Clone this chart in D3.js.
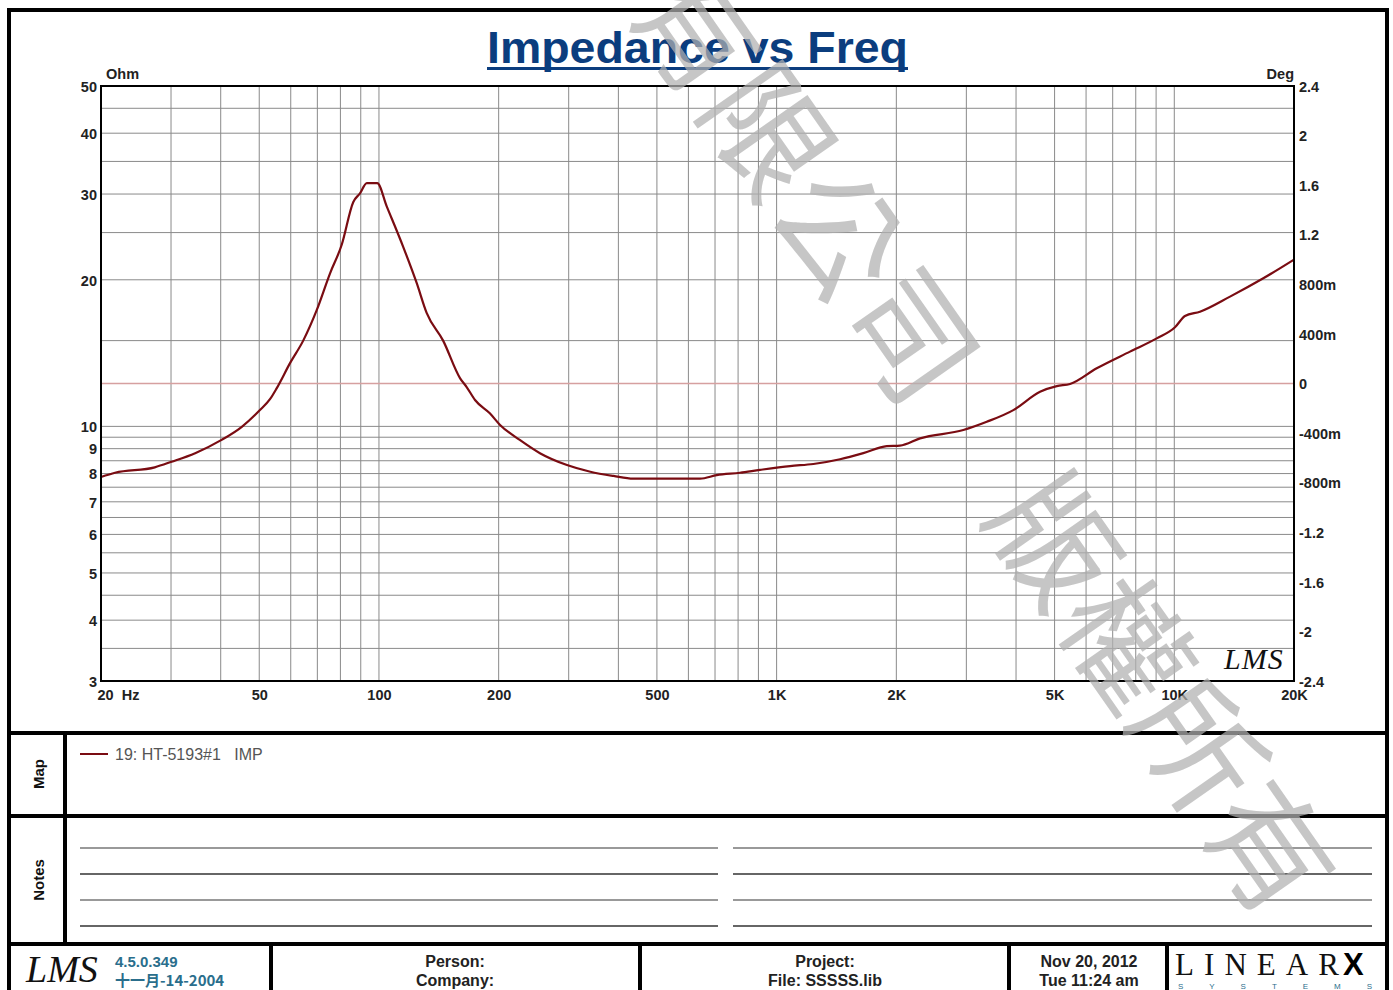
<!DOCTYPE html>
<html lang="en">
<head>
<meta charset="UTF-8">
<title>Impedance vs Freq</title>
<style>
  body { margin: 0; background: #fff; }
  svg text { font-family: "Liberation Sans", Arial, sans-serif; }
</style>
</head>
<body>
<div id="chart"></div>
<script src="https://d3js.org/d3.v7.min.js"></script>
<script>
// impedance trace
const freqHz = [20, 21.7, 27.3, 30.1, 34.5, 40.2, 45.2, 50.2, 53.2, 55.3, 59.8, 64.5, 69.7, 75.3, 80.6,
  86.2, 89.6, 93.2, 99, 104.6, 115, 124.4, 131.8, 145, 160, 166, 174.4, 190, 201.6, 226, 254, 297,
  340, 389, 436, 642, 707, 809, 908, 1081, 1237, 1444, 1652, 1892, 2042, 2294, 2948, 3376, 3938,
  4596, 5064, 5468, 6382, 7738, 9032, 10042, 10638, 11604, 13808, 16744, 20000]
const impOhm = [7.87, 8.03, 8.24, 8.46, 8.81, 9.38, 9.98, 10.8, 11.37, 11.97, 13.5, 15.0, 17.3, 20.6, 23.6,
  28.9, 30.1, 31.6, 31.6, 28.3, 23.4, 19.7, 17.1, 15.0, 12.55, 12.06, 11.33, 10.64, 10.07, 9.38, 8.81, 8.33,
  8.07, 7.91, 7.81, 7.81, 7.94, 8.03, 8.14, 8.29, 8.37, 8.56, 8.81, 9.11, 9.13, 9.45, 9.83, 10.22, 10.8,
  11.78, 12.1, 12.22, 13.16, 14.24, 15.16, 15.98, 16.85, 17.2, 18.47, 20.14, 22.0]
// phase trace (flat at 0 deg)
const phaseFreq = [20, 20000]
const phaseDeg = [0, 0]

const xTicks = [20, 50, 100, 200, 500, 1000, 2000, 5000, 10000, 20000]
const xTickLabels = ['20  Hz', '50', '100', '200', '500', '1K', '2K', '5K', '10K', '20K']
const yLeftTicks = [3, 4, 5, 6, 7, 8, 9, 10, 20, 30, 40, 50]
const yLeftGrid = [3.5, 4, 4.5, 5, 5.5, 6, 6.5, 7, 7.5, 8, 8.5, 9, 9.5, 10, 15, 20, 25, 30, 35, 40, 45]
const yRightTicks = [2.4, 2, 1.6, 1.2, 0.8, 0.4, 0, -0.4, -0.8, -1.2, -1.6, -2, -2.4]
const yRightLabels = ['2.4', '2', '1.6', '1.2', '800m', '400m', '0', '-400m', '-800m', '-1.2', '-1.6', '-2', '-2.4']

const width = 1393
const height = 990
const plot = { left: 101, right: 1294, top: 86, bottom: 681 }
const traceColor = '#7a0c12'

const svg = d3.select('#chart')
  .append('svg')
  .attr('width', width)
  .attr('height', height)

const xScale = d3.scaleLog().domain([20, 20000]).range([plot.left, plot.right])
const yScale = d3.scaleLog().domain([3, 50]).range([plot.bottom, plot.top])
const yPhase = d3.scaleLinear().domain([-2.4, 2.4]).range([plot.bottom, plot.top])

// title
svg.append('text')
  .attr('x', 487).attr('y', 63)
  .attr('textLength', 421).attr('lengthAdjust', 'spacingAndGlyphs')
  .style('font-size', '44px').style('font-weight', 'bold')
  .attr('fill', '#0b3d7e')
  .text('Impedance vs Freq')
svg.append('line')
  .attr('x1', 487).attr('x2', 908).attr('y1', 68.5).attr('y2', 68.5)
  .attr('stroke', '#0b3d7e').attr('stroke-width', 3)

// grid
const grid = svg.append('g')
const xGrid = []
for (let dec = 10; dec <= 10000; dec *= 10) {
  for (let m = 1; m <= 9; m++) {
    const f = dec * m
    if (f > 20 && f < 20000) xGrid.push(f)
  }
}
grid.selectAll('.vg').data(xGrid).enter().append('line')
  .attr('x1', d => xScale(d)).attr('x2', d => xScale(d))
  .attr('y1', plot.top).attr('y2', plot.bottom)
  .attr('stroke', '#8a8a8a').attr('stroke-width', 1)
grid.selectAll('.hg').data(yLeftGrid).enter().append('line')
  .attr('x1', plot.left).attr('x2', plot.right)
  .attr('y1', d => yScale(d)).attr('y2', d => yScale(d))
  .attr('stroke', '#8a8a8a').attr('stroke-width', 1)

// phase (0 deg) trace
svg.append('path')
  .datum(phaseFreq.map((f, i) => [f, phaseDeg[i]]))
  .attr('fill', 'none').attr('stroke', '#d6a0a0').attr('stroke-width', 1.6)
  .attr('d', d3.line().x(d => xScale(d[0])).y(d => yPhase(d[1])))

// impedance trace
svg.append('path')
  .datum(freqHz.map((f, i) => [f, impOhm[i]]))
  .attr('fill', 'none').attr('stroke', traceColor).attr('stroke-width', 2.2)
  .attr('stroke-linejoin', 'round')
  .attr('d', d3.line().curve(d3.curveMonotoneX).x(d => xScale(d[0])).y(d => yScale(d[1])))

// plot frame
svg.append('rect')
  .attr('x', plot.left).attr('y', plot.top)
  .attr('width', plot.right - plot.left).attr('height', plot.bottom - plot.top)
  .attr('fill', 'none').attr('stroke', '#000').attr('stroke-width', 2)

// axes
const xAxis = d3.axisBottom(xScale).tickValues(xTicks)
  .tickFormat((d, i) => xTickLabels[i]).tickSize(0).tickPadding(9)
const gx = svg.append('g').attr('transform', `translate(0,${plot.bottom})`).call(xAxis)
gx.select('.domain').remove()
gx.selectAll('text').filter((d, i) => i === 0)
  .attr('text-anchor', 'start').attr('x', -4).style('white-space', 'pre')

const yAxis = d3.axisLeft(yScale).tickValues(yLeftTicks)
  .tickFormat(d3.format('d')).tickSize(0).tickPadding(4)
const gy = svg.append('g').attr('transform', `translate(${plot.left},0)`).call(yAxis)
gy.select('.domain').remove()

const yAxisR = d3.axisRight(yPhase).tickValues(yRightTicks)
  .tickFormat((d, i) => yRightLabels[i]).tickSize(0).tickPadding(5)
const gyr = svg.append('g').attr('transform', `translate(${plot.right},0)`).call(yAxisR)
gyr.select('.domain').remove()

svg.selectAll('.tick text')
  .style('font-size', '14.5px').style('font-weight', 'bold')
  .attr('fill', '#222')
gy.selectAll('.tick text').attr('dy', '0.36em')
gyr.selectAll('.tick text').attr('dy', '0.36em')

svg.append('text').attr('x', 106).attr('y', 79)
  .style('font-size', '14.5px').style('font-weight', 'bold').attr('fill', '#222').text('Ohm')
svg.append('text').attr('x', 1294).attr('y', 79).attr('text-anchor', 'end')
  .style('font-size', '14.5px').style('font-weight', 'bold').attr('fill', '#222').text('Deg')

// LMS mark inside plot
svg.append('text').attr('x', 1224).attr('y', 669)
  .style('font-family', '"Liberation Serif", serif').style('font-style', 'italic')
  .style('font-size', '30px').style('letter-spacing', '1px')
  .attr('fill', '#111').text('LMS')

// sheet frame
const frame = svg.append('g').attr('stroke', '#000').attr('stroke-width', 4).attr('fill', 'none')
frame.append('rect').attr('x', 9).attr('y', 10).attr('width', 1378).attr('height', 1010)
frame.append('line').attr('x1', 9).attr('x2', 1387).attr('y1', 733).attr('y2', 733)
frame.append('line').attr('x1', 9).attr('x2', 1387).attr('y1', 816).attr('y2', 816)
frame.append('line').attr('x1', 9).attr('x2', 1387).attr('y1', 944).attr('y2', 944)
frame.append('line').attr('x1', 65).attr('x2', 65).attr('y1', 733).attr('y2', 944)
;[271, 640, 1009, 1167].forEach(x => {
  frame.append('line').attr('x1', x).attr('x2', x).attr('y1', 944).attr('y2', 1000)
})

// section labels
svg.append('text').attr('transform', 'translate(44,774) rotate(-90)')
  .attr('text-anchor', 'middle').style('font-size', '15px').style('font-weight', 'bold')
  .attr('fill', '#111').text('Map')
svg.append('text').attr('transform', 'translate(44,880) rotate(-90)')
  .attr('text-anchor', 'middle').style('font-size', '15px').style('font-weight', 'bold')
  .attr('fill', '#111').text('Notes')

// legend
svg.append('line').attr('x1', 80).attr('x2', 108).attr('y1', 754).attr('y2', 754)
  .attr('stroke', traceColor).attr('stroke-width', 2)
svg.append('text').attr('x', 115).attr('y', 760)
  .style('font-size', '16px').style('white-space', 'pre').attr('fill', '#555')
  .text('19: HT-5193#1   IMP')

// notes lines
const noteRows = [848, 874, 900, 926]
noteRows.forEach((y, i) => {
  const c = i % 2 === 0 ? '#777' : '#333'
  svg.append('line').attr('x1', 80).attr('x2', 718).attr('y1', y).attr('y2', y)
    .attr('stroke', c).attr('stroke-width', 1.3)
  svg.append('line').attr('x1', 733).attr('x2', 1372).attr('y1', y).attr('y2', y)
    .attr('stroke', c).attr('stroke-width', 1.3)
})

// footer
svg.append('text').attr('x', 26).attr('y', 982)
  .style('font-family', '"Liberation Serif", serif').style('font-style', 'italic')
  .style('font-size', '38px').attr('fill', '#111').text('LMS')
const ver = svg.append('g').attr('fill', '#2a6e8c')
  .style('font-size', '15px').style('font-weight', 'bold')
ver.append('text').attr('x', 115).attr('y', 967).text('4.5.0.349')
ver.append('text').attr('x', 115).attr('y', 986)
  .style('font-family', '"Noto Sans CJK SC", "Liberation Sans", sans-serif').text('十一月-14-2004')

const foot = svg.append('g').attr('fill', '#222').attr('text-anchor', 'middle')
  .style('font-size', '16px').style('font-weight', 'bold')
foot.append('text').attr('x', 455).attr('y', 967).text('Person:')
foot.append('text').attr('x', 455).attr('y', 986).text('Company:')
foot.append('text').attr('x', 825).attr('y', 967).text('Project:')
foot.append('text').attr('x', 825).attr('y', 986).text('File: SSSSS.lib')
foot.append('text').attr('x', 1089).attr('y', 967).text('Nov 20, 2012')
foot.append('text').attr('x', 1089).attr('y', 986).text('Tue 11:24 am')

svg.append('text').attr('x', 1175).attr('y', 975)
  .attr('textLength', 164).attr('lengthAdjust', 'spacing')
  .style('font-family', '"Liberation Serif", serif').style('font-size', '31px')
  .attr('fill', '#111').text('LINEAR')
svg.append('text').attr('x', 1343).attr('y', 975)
  .style('font-size', '31px').style('font-weight', '900')
  .attr('fill', '#000').text('X')
svg.append('text').attr('x', 1178).attr('y', 989)
  .attr('textLength', 194).attr('lengthAdjust', 'spacing')
  .style('font-size', '8px').attr('fill', '#2a6e8c').text('SYSTEMS')

// watermark
svg.append('text')
  .attr('transform', 'translate(981,440) rotate(55)')
  .attr('text-anchor', 'middle').attr('dy', '0.35em')
  .style('font-family', '"Noto Sans CJK TC", "Noto Sans CJK SC", sans-serif')
  .style('font-size', '125px')
  .attr('fill', '#b0b0b0').attr('fill-opacity', 0.72)
  .text('有限公司　版權所有')
</script>
</body>
</html>
